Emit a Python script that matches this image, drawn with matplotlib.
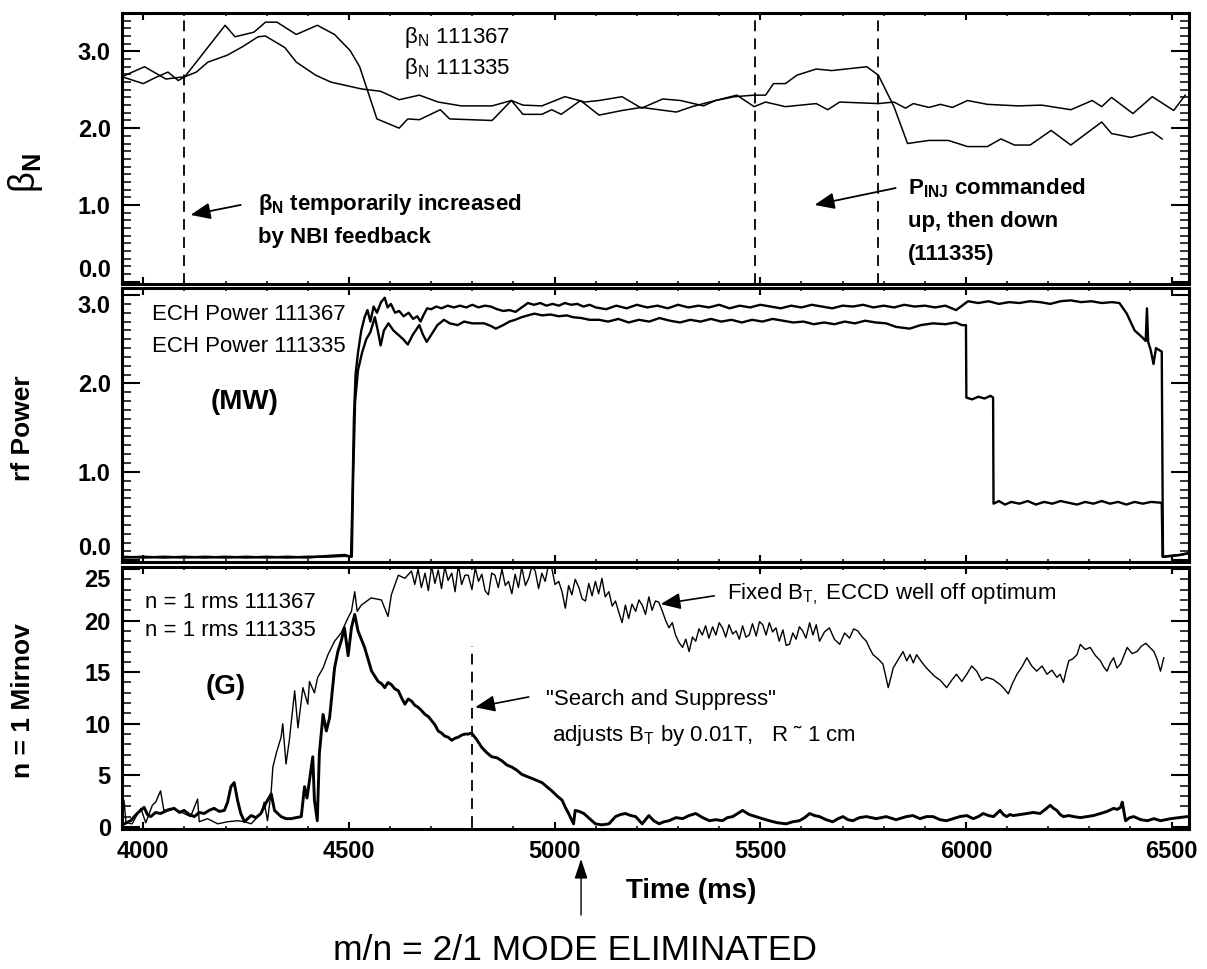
import matplotlib
matplotlib.use("Agg")
import matplotlib.pyplot as plt
from matplotlib.ticker import MultipleLocator
from matplotlib.patches import FancyArrowPatch

plt.rcParams['font.family'] = ['Liberation Sans', 'DejaVu Sans']
plt.rcParams['mathtext.fontset'] = 'custom'
plt.rcParams['mathtext.rm'] = 'Liberation Sans'
plt.rcParams['mathtext.it'] = 'Liberation Sans:italic'
plt.rcParams['mathtext.bf'] = 'Liberation Sans:bold'

# ---- beta_N (top panel) ----
t_bn335 = [3948, 4003, 4055, 4101, 4199, 4223, 4269, 4297, 4325, 4372, 4423, 4465, 4503, 4526,
           4568, 4622, 4643, 4671, 4722, 4745, 4848, 4895, 4923, 4969, 4993, 5016, 5063, 5108,
           5164, 5211, 5296, 5334, 5391, 5438, 5485, 5513, 5532, 5561, 5589, 5636, 5674, 5759,
           5787, 5825, 5858, 5910, 5957, 6004, 6052, 6085, 6118, 6156, 6207, 6255, 6330, 6354,
           6401, 6453, 6477]
bn335 = [2.67, 2.80, 2.64, 2.67, 3.34, 3.19, 3.25, 3.38, 3.38, 3.22, 3.34, 3.22, 3.01, 2.80,
         2.12, 2.00, 2.12, 2.11, 2.24, 2.12, 2.10, 2.36, 2.18, 2.18, 2.24, 2.18, 2.36, 2.17,
         2.23, 2.27, 2.21, 2.28, 2.36, 2.41, 2.43, 2.43, 2.58, 2.58, 2.69, 2.77, 2.75, 2.80,
         2.69, 2.28, 1.80, 1.84, 1.84, 1.76, 1.76, 1.86, 1.78, 1.78, 1.97, 1.78, 2.08, 1.93,
         1.88, 1.95, 1.86]
t_bn367 = [3948, 4000, 4030, 4060, 4085, 4101, 4129, 4157, 4204, 4241, 4279, 4297, 4344, 4372,
           4419, 4456, 4531, 4577, 4622, 4671, 4717, 4773, 4848, 4895, 4923, 4969, 5025, 5053,
           5072, 5108, 5164, 5211, 5263, 5306, 5362, 5391, 5443, 5485, 5513, 5561, 5636, 5664,
           5693, 5787, 5825, 5853, 5872, 5910, 5938, 5967, 6004, 6052, 6127, 6184, 6255, 6307,
           6330, 6354, 6406, 6453, 6505, 6533]
bn367 = [2.67, 2.58, 2.66, 2.73, 2.62, 2.67, 2.73, 2.86, 2.95, 3.06, 3.19, 3.20, 3.05, 2.86,
         2.69, 2.60, 2.51, 2.48, 2.37, 2.43, 2.34, 2.29, 2.29, 2.36, 2.30, 2.29, 2.41, 2.37,
         2.34, 2.36, 2.41, 2.26, 2.38, 2.36, 2.29, 2.36, 2.43, 2.28, 2.34, 2.28, 2.32, 2.24,
         2.34, 2.32, 2.34, 2.26, 2.32, 2.27, 2.31, 2.27, 2.36, 2.31, 2.29, 2.30, 2.24, 2.36,
         2.28, 2.40, 2.19, 2.41, 2.23, 2.43]
bn_marks = [4100, 5488, 5785]

# ---- ECH power (middle panel) ----
t_ech367 = [3948, 4000, 4050, 4100, 4150, 4200, 4250, 4300, 4350, 4400, 4450, 4490, 4505,
            4508, 4512, 4516, 4522, 4530, 4538, 4545, 4552, 4560, 4568, 4578, 4587, 4594,
            4602, 4612, 4622, 4633, 4645, 4656, 4666, 4674, 4682, 4690, 4700, 4712, 4725,
            4740, 4755, 4770, 4785, 4800, 4815, 4830, 4845, 4860, 4875, 4890, 4905, 4920,
            4935, 4950, 4965, 4980, 4995, 5010, 5025, 5040, 5055, 5070, 5085, 5100, 5125,
            5150, 5175, 5200, 5225, 5250, 5275, 5300, 5325, 5350, 5375, 5400, 5425, 5450,
            5475, 5500, 5525, 5550, 5575, 5600, 5625, 5650, 5675, 5700, 5725, 5750, 5775,
            5800, 5825, 5850, 5875, 5900, 5925, 5950, 5976, 6005, 6030, 6055, 6080, 6105,
            6130, 6155, 6180, 6205, 6230, 6255, 6280, 6305, 6330, 6355, 6373, 6391, 6410,
            6429, 6437, 6440, 6443, 6449, 6456, 6462, 6476, 6479, 6500, 6520, 6541]
ech367 = [0.04, 0.03, 0.04, 0.03, 0.04, 0.03, 0.04, 0.03, 0.04, 0.03, 0.05, 0.06, 0.04,
          0.6, 1.6, 2.1, 2.35, 2.6, 2.75, 2.83, 2.7, 2.87, 2.8, 2.92, 2.97, 2.86,
          2.9, 2.8, 2.82, 2.76, 2.8, 2.73, 2.76, 2.70, 2.78, 2.85, 2.84, 2.87, 2.85,
          2.88, 2.86, 2.88, 2.86, 2.89, 2.86, 2.88, 2.87, 2.84, 2.82, 2.83, 2.81, 2.86,
          2.91, 2.89, 2.91, 2.88, 2.90, 2.88, 2.91, 2.89, 2.90, 2.87, 2.89, 2.86, 2.84,
          2.88, 2.85, 2.89, 2.86, 2.88, 2.85, 2.89, 2.86, 2.88, 2.86, 2.89, 2.85, 2.88,
          2.86, 2.89, 2.87, 2.85, 2.88, 2.86, 2.89, 2.87, 2.85, 2.88, 2.87, 2.89, 2.86,
          2.88, 2.86, 2.89, 2.87, 2.88, 2.86, 2.88, 2.83, 2.93, 2.91, 2.93, 2.90, 2.92,
          2.91, 2.93, 2.92, 2.90, 2.93, 2.94, 2.92, 2.93, 2.91, 2.92, 2.91, 2.79, 2.60,
          2.52, 2.48, 2.85, 2.47, 2.38, 2.22, 2.40, 2.36, 0.04, 0.05, 0.06, 0.08]
t_ech335 = [3948, 4000, 4050, 4100, 4150, 4200, 4250, 4300, 4350, 4400, 4450, 4490, 4507,
            4510, 4515, 4522, 4532, 4542, 4552, 4563, 4570, 4577, 4585, 4596, 4608, 4620,
            4632, 4643, 4655, 4671, 4680, 4689, 4700, 4715, 4731, 4745, 4764, 4780, 4800,
            4829, 4845, 4857, 4875, 4890, 4904, 4920, 4935, 4951, 4970, 4990, 5010, 5030,
            5044, 5065, 5085, 5108, 5130, 5155, 5180, 5205, 5230, 5255, 5280, 5305, 5330,
            5355, 5380, 5405, 5430, 5455, 5480, 5505, 5530, 5555, 5580, 5605, 5630, 5655,
            5680, 5705, 5730, 5755, 5780, 5806, 5830, 5863, 5890, 5920, 5950, 5975, 5990,
            6000, 6001, 6015, 6030, 6045, 6060, 6066, 6067, 6080, 6095, 6110, 6130, 6150,
            6170, 6190, 6210, 6230, 6250, 6270, 6290, 6310, 6330, 6350, 6370, 6390, 6410,
            6430, 6450, 6476, 6478, 6500, 6520, 6541]
ech335 = [0.03, 0.04, 0.03, 0.04, 0.03, 0.04, 0.03, 0.04, 0.03, 0.04, 0.04, 0.05, 0.04,
          0.9, 1.8, 2.15, 2.35, 2.5, 2.58, 2.75, 2.6, 2.43, 2.6, 2.68, 2.6, 2.55,
          2.5, 2.44, 2.55, 2.66, 2.55, 2.47, 2.55, 2.66, 2.72, 2.68, 2.66, 2.70, 2.68,
          2.68, 2.65, 2.62, 2.66, 2.70, 2.72, 2.75, 2.77, 2.79, 2.77, 2.78, 2.76, 2.77,
          2.75, 2.74, 2.72, 2.72, 2.70, 2.73, 2.69, 2.72, 2.70, 2.74, 2.71, 2.69, 2.72,
          2.70, 2.73, 2.70, 2.72, 2.69, 2.72, 2.70, 2.73, 2.71, 2.69, 2.70, 2.67, 2.69,
          2.67, 2.70, 2.68, 2.71, 2.69, 2.68, 2.64, 2.62, 2.66, 2.68, 2.67, 2.69, 2.66,
          2.66, 1.84, 1.82, 1.85, 1.83, 1.86, 1.84, 0.64, 0.67, 0.63, 0.66, 0.64, 0.67,
          0.63, 0.66, 0.64, 0.67, 0.65, 0.63, 0.66, 0.64, 0.67, 0.64, 0.66, 0.63, 0.66,
          0.64, 0.66, 0.65, 0.04, 0.05, 0.06, 0.08]

# ---- n=1 Mirnov (bottom panel) ----
t_mir367 = [3949, 3953, 3958, 3973, 3985, 3994, 4006, 4022, 4030, 4042, 4050, 4067, 4083,
            4099, 4115, 4132, 4136, 4156, 4181, 4205, 4229, 4246, 4262, 4286, 4294, 4302,
            4311, 4315, 4323, 4335, 4339, 4347, 4355, 4368, 4376, 4388, 4400, 4404, 4416,
            4424, 4437, 4449, 4465, 4481, 4498, 4506, 4514, 4520, 4530, 4554, 4579, 4595,
            4603, 4620, 4636, 4652, 4660, 4668, 4676, 4685, 4693, 4701, 4709, 4717, 4725,
            4733, 4741, 4750, 4758, 4766, 4774, 4782, 4790, 4799, 4807, 4815, 4823, 4831,
            4839, 4847, 4855, 4863, 4872, 4880, 4888, 4896, 4904, 4912, 4920, 4929, 4937,
            4945, 4953, 4961, 4969, 4977, 4985, 4993, 5001, 5010, 5018, 5026, 5034, 5042,
            5050, 5059, 5067, 5075, 5083, 5091, 5099, 5107, 5115, 5123, 5132, 5140, 5148,
            5156, 5164, 5172, 5180, 5188, 5197, 5205, 5213, 5221, 5229, 5237, 5245, 5253,
            5262, 5270, 5278, 5286, 5294, 5302, 5311, 5319, 5327, 5335, 5343, 5351, 5359,
            5367, 5375, 5384, 5392, 5400, 5408, 5416, 5424, 5433, 5441, 5449, 5457, 5465,
            5473, 5481, 5490, 5498, 5506, 5514, 5522, 5530, 5538, 5546, 5555, 5563, 5571,
            5579, 5587, 5595, 5603, 5611, 5620, 5628, 5636, 5644, 5656, 5668, 5680, 5693,
            5705, 5717, 5727, 5737, 5748, 5758, 5766, 5774, 5786, 5798, 5805, 5811, 5817,
            5823, 5835, 5847, 5856, 5864, 5872, 5880, 5892, 5904, 5914, 5924, 5938, 5953,
            5965, 5977, 5990, 6002, 6014, 6026, 6038, 6050, 6066, 6083, 6093, 6103, 6113,
            6124, 6136, 6148, 6160, 6172, 6185, 6197, 6209, 6221, 6229, 6237, 6244, 6250,
            6260, 6270, 6278, 6290, 6302, 6315, 6327, 6335, 6343, 6351, 6359, 6367, 6376,
            6384, 6392, 6404, 6416, 6426, 6437, 6447, 6457, 6465, 6473, 6481]
mir367 = [0.3, 2.6, 0.4, 0.3, 1.2, 1.8, 0.4, 2.1, 2.4, 3.5, 1.6, 1.8, 1.6,
          1.3, 1.0, 2.7, 0.5, 0.8, 0.3, 0.5, 0.6, 0.5, 0.3, 1.3, 2.4, 0.6,
          3.5, 5.8, 7.1, 8.7, 10.0, 6.1, 8.4, 13.2, 9.6, 13.5, 11.9, 14.1, 13.0,
          14.5, 15.4, 16.7, 18.0, 18.8, 20.3, 20.9, 22.8, 20.9, 21.5, 22.2, 22.0, 20.4,
          22.5, 24.4, 24.1, 24.8, 23.5, 25.0, 23.2, 24.6, 22.9, 25.3, 23.6, 24.9, 23.1,
          25.2, 23.9, 24.6, 22.8, 25.4, 23.5, 24.4, 24.4, 23.0, 25.1, 23.8, 24.5, 22.9,
          22.5, 24.6, 24.4, 23.2, 25.0, 23.4, 23.8, 22.6, 24.5, 23.2, 25.2, 23.4, 24.1,
          25.3, 24.8, 23.1, 24.6, 23.8, 25.4, 25.1, 23.5, 23.8, 22.8, 21.2, 23.4, 22.5,
          24.0, 23.2, 22.1, 21.9, 23.6, 22.4, 23.8, 22.6, 24.1, 22.3, 22.8, 21.4, 21.9,
          20.8, 19.8, 21.5, 20.2, 21.6, 20.9, 22.0, 21.5, 20.6, 22.3, 21.0, 21.9, 21.8,
          20.9, 20.0, 19.3, 19.8, 18.6, 17.9, 17.4, 18.2, 17.0, 18.4, 18.0, 19.2, 18.6,
          19.5, 18.3, 19.4, 18.6, 19.8, 19.3, 18.4, 19.6, 18.7, 19.0, 18.2, 19.5, 18.4,
          18.6, 19.7, 18.5, 19.9, 19.6, 18.6, 19.8, 18.9, 19.3, 18.0, 19.1, 17.6, 17.7,
          18.8, 18.2, 19.4, 19.0, 18.3, 19.8, 18.6, 19.6, 18.0, 18.9, 19.3, 18.2, 17.7,
          18.8, 18.3, 19.2, 19.0, 18.4, 18.0, 17.3, 16.7, 16.3, 15.8, 14.6, 13.5, 14.4,
          15.4, 16.2, 17.0, 16.1, 16.7, 15.9, 16.7, 16.0, 15.4, 15.0, 14.6, 14.2, 13.5,
          14.2, 14.8, 14.1, 14.8, 15.6, 15.1, 14.2, 14.5, 14.3, 13.8, 13.4, 12.9, 13.9,
          14.8, 15.5, 16.4, 15.6, 15.1, 15.6, 14.8, 15.2, 14.5, 14.8, 14.0, 15.2, 16.1,
          16.3, 16.7, 17.7, 17.2, 17.4, 16.6, 16.1, 15.5, 15.1, 15.9, 16.4, 15.4, 15.8,
          16.6, 17.4, 16.8, 17.0, 17.5, 17.8, 17.4, 17.0, 16.2, 15.1, 16.4]
t_mir335 = [3949, 3969, 3985, 4002, 4010, 4018, 4030, 4042, 4058, 4075, 4088, 4099, 4112,
            4124, 4136, 4148, 4160, 4172, 4185, 4197, 4205, 4213, 4221, 4229, 4237, 4246,
            4254, 4262, 4274, 4286, 4298, 4311, 4319, 4335, 4347, 4359, 4372, 4384, 4392,
            4398, 4404, 4412, 4416, 4423, 4428, 4437, 4445, 4453, 4457, 4465, 4473, 4481,
            4489, 4498, 4506, 4514, 4522, 4530, 4538, 4546, 4555, 4563, 4571, 4579, 4587,
            4595, 4603, 4611, 4620, 4628, 4636, 4644, 4652, 4660, 4668, 4676, 4685, 4693,
            4701, 4709, 4717, 4725, 4733, 4741, 4750, 4758, 4766, 4774, 4782, 4790, 4798,
            4810, 4823, 4835, 4847, 4860, 4872, 4884, 4896, 4908, 4920, 4932, 4945, 4957,
            4969, 4981, 4993, 5006, 5018, 5026, 5034, 5046, 5050, 5060, 5071, 5085, 5099,
            5115, 5132, 5148, 5160, 5172, 5185, 5197, 5213, 5229, 5241, 5254, 5266, 5278,
            5295, 5311, 5327, 5343, 5360, 5376, 5392, 5408, 5420, 5433, 5445, 5457, 5473,
            5489, 5505, 5522, 5542, 5563, 5579, 5595, 5608, 5620, 5632, 5644, 5660, 5676,
            5689, 5701, 5713, 5725, 5741, 5758, 5782, 5806, 5830, 5855, 5871, 5888, 5904,
            5920, 5937, 5953, 5969, 5985, 6002, 6018, 6030, 6042, 6055, 6067, 6075, 6083,
            6091, 6099, 6107, 6115, 6132, 6148, 6164, 6180, 6193, 6205, 6213, 6221, 6229,
            6237, 6250, 6262, 6278, 6294, 6310, 6327, 6343, 6359, 6368, 6376, 6380, 6388,
            6398, 6408, 6425, 6441, 6457, 6473, 6485, 6498, 6518, 6538]
mir335 = [0.2, 0.6, 1.3, 1.9, 1.2, 1.0, 1.4, 1.3, 1.6, 1.8, 1.4, 1.6, 1.2,
          1.0, 1.4, 1.3, 1.6, 1.8, 1.5, 1.6, 2.4, 3.9, 4.3, 2.6, 1.3, 0.5,
          0.8, 1.1, 0.9, 1.3, 2.3, 3.2, 1.6, 1.0, 0.8, 0.8, 0.9, 1.0, 3.9,
          2.8, 4.5, 6.8, 2.6, 0.6, 7.1, 10.9, 9.3, 10.6, 12.2, 15.4, 17.0, 18.0,
          19.3, 16.6, 19.3, 20.6, 19.0, 18.2, 17.4, 16.3, 15.1, 14.6, 14.1, 13.9, 13.5,
          14.0, 13.8, 13.4, 13.2, 12.5, 11.9, 12.4, 12.2, 11.8, 11.6, 11.3, 10.9, 10.7,
          10.3, 9.9, 9.3, 9.1, 8.8, 8.7, 8.4, 8.6, 8.7, 8.9, 9.0, 9.0, 9.1,
          8.5, 7.7, 7.2, 6.8, 6.7, 6.4, 6.0, 5.8, 5.5, 5.1, 4.9, 4.7, 4.5,
          4.3, 3.9, 3.5, 3.0, 2.6, 1.9, 1.3, 0.3, 1.6, 1.5, 1.3, 0.8, 0.3,
          0.2, 0.3, 1.0, 1.2, 1.3, 1.1, 1.0, 0.3, 1.1, 0.6, 0.3, 0.5, 0.6,
          0.9, 0.8, 1.1, 1.3, 0.9, 0.6, 0.7, 0.6, 0.9, 1.0, 1.3, 1.6, 1.2,
          1.0, 0.8, 0.6, 0.4, 0.3, 0.5, 0.6, 0.9, 1.3, 1.1, 1.0, 0.7, 0.5,
          0.8, 1.0, 0.7, 0.6, 0.9, 1.0, 0.8, 1.0, 0.7, 1.0, 1.1, 0.8, 1.0,
          1.0, 0.7, 0.6, 0.8, 1.0, 1.1, 0.8, 1.0, 1.3, 1.1, 1.0, 1.3, 1.6,
          1.2, 1.0, 1.2, 1.1, 1.2, 1.3, 1.4, 1.3, 1.7, 2.1, 1.8, 1.6, 1.2,
          1.0, 1.1, 1.0, 0.9, 1.0, 1.1, 1.3, 1.5, 1.8, 1.7, 1.9, 2.4, 0.6,
          0.9, 1.0, 0.7, 0.6, 0.8, 0.6, 0.7, 0.8, 0.9, 1.0]

ARROW = '-|>,head_length=0.6,head_width=0.25'

fig = plt.figure(figsize=(12.07, 9.69), dpi=100)
ax1 = fig.add_axes([0.101, 0.7069, 0.884, 0.2797])
ax2 = fig.add_axes([0.101, 0.4200, 0.884, 0.2828])
ax3 = fig.add_axes([0.101, 0.1445, 0.884, 0.2704])

for ax in (ax1, ax2, ax3):
    ax.set_xlim(3948, 6542)
    ax.xaxis.set_major_locator(MultipleLocator(500))
    ax.xaxis.set_minor_locator(MultipleLocator(100))
    ax.tick_params(which='both', direction='in', top=True, right=True, colors='k')
    ax.tick_params(axis='y', which='major', length=13, width=1.5, pad=8, labelsize=17)
    ax.tick_params(axis='y', which='minor', length=6.5, width=1.1)
    ax.tick_params(axis='x', which='major', length=5, width=1.5, pad=8, labelsize=17)
    ax.tick_params(axis='x', which='minor', length=2.5, width=1.1)
    for s in ax.spines.values():
        s.set_linewidth(2.2)

ax1.tick_params(labelbottom=False)
ax2.tick_params(labelbottom=False)

# top: beta_N
ax1.plot(t_bn335, bn335, color='k', lw=1.1)
ax1.plot(t_bn367, bn367, color='k', lw=1.1)
for t in bn_marks:
    ax1.axvline(t, color='k', lw=1.3, ls=(0, (6, 4)))
ax1.set_ylim(-0.03, 3.5)
ax1.yaxis.set_major_locator(MultipleLocator(1.0))
ax1.yaxis.set_minor_locator(MultipleLocator(0.1))
ax1.yaxis.set_major_formatter(plt.FormatStrFormatter('%.1f'))
ax1.set_ylabel('β$_\\mathbf{N}$', fontsize=26)
ax1.yaxis.set_label_coords(-0.072, 0.41)
ax1.text(4634, 3.18, 'β$_\\mathrm{N}$ 111367', fontsize=16, va='center')
ax1.text(4634, 2.78, 'β$_\\mathrm{N}$ 111335', fontsize=16, va='center')
ax1.text(4280, 1.0, 'β$_\\mathbf{N}$ temporarily increased', fontsize=16,
         fontweight='bold', va='center')
ax1.text(4280, 0.57, 'by NBI feedback', fontsize=16, fontweight='bold', va='center')
ax1.annotate('', xy=(4115, 0.87), xytext=(4237, 1.0),
             arrowprops=dict(arrowstyle=ARROW, color='k', lw=1.3, mutation_scale=20,
                             shrinkA=0, shrinkB=0))
ax1.text(5859, 1.22, 'P$_\\mathbf{INJ}$ commanded', fontsize=16, fontweight='bold', va='center')
ax1.text(5859, 0.78, 'up, then down', fontsize=16, fontweight='bold', va='center')
ax1.text(5859, 0.35, '(111335)', fontsize=16, fontweight='bold', va='center')
ax1.annotate('', xy=(5632, 1.0), xytext=(5829, 1.22),
             arrowprops=dict(arrowstyle=ARROW, color='k', lw=1.3, mutation_scale=20,
                             shrinkA=0, shrinkB=0))

# middle: ECH power
ax2.plot(t_ech367, ech367, color='k', lw=1.7)
ax2.plot(t_ech335, ech335, color='k', lw=1.7)
ax2.set_ylim(-0.02, 3.08)
ax2.yaxis.set_major_locator(MultipleLocator(1.0))
ax2.yaxis.set_minor_locator(MultipleLocator(0.1))
ax2.yaxis.set_major_formatter(plt.FormatStrFormatter('%.1f'))
ax2.set_ylabel('rf Power', fontsize=19, fontweight='bold')
ax2.yaxis.set_label_coords(-0.081, 0.49)
ax2.text(4022, 2.78, 'ECH Power 111367', fontsize=16, va='center')
ax2.text(4022, 2.42, 'ECH Power 111335', fontsize=16, va='center')
ax2.text(4246, 1.79, '(MW)', fontsize=20, fontweight='bold', va='center', ha='center')

# bottom: n=1 Mirnov
ax3.plot(t_mir367, mir367, color='k', lw=1.0)
ax3.plot(t_mir335, mir335, color='k', lw=2.1)
ax3.plot([4800, 4800], [0, 17.5], color='k', lw=1.3, ls=(0, (6, 4)))
ax3.set_ylim(-0.2, 25.2)
ax3.yaxis.set_major_locator(MultipleLocator(5))
ax3.yaxis.set_minor_locator(MultipleLocator(1))
ax3.set_ylabel('n = 1 Mirnov', fontsize=19, fontweight='bold')
ax3.yaxis.set_label_coords(-0.081, 0.49)
ax3.text(4005, 21.8, 'n = 1 rms 111367', fontsize=16, va='center')
ax3.text(4005, 19.0, 'n = 1 rms 111335', fontsize=16, va='center')
ax3.text(4200, 13.6, '(G)', fontsize=20, fontweight='bold', va='center', ha='center')
ax3.text(5420, 22.6, 'Fixed B$_\\mathrm{T,}$ ECCD well off optimum', fontsize=16, va='center')
ax3.annotate('', xy=(5258, 21.6), xytext=(5388, 22.4),
             arrowprops=dict(arrowstyle=ARROW, color='k', lw=1.2, mutation_scale=20,
                             shrinkA=0, shrinkB=0))
ax3.text(4978, 12.4, '"Search and Suppress"', fontsize=16, va='center')
ax3.text(4993, 8.9, 'adjusts B$_\\mathrm{T}$ by 0.01T,   R \u02dc 1 cm', fontsize=16, va='center')
ax3.annotate('', xy=(4807, 11.6), xytext=(4937, 12.6),
             arrowprops=dict(arrowstyle=ARROW, color='k', lw=1.2, mutation_scale=20,
                             shrinkA=0, shrinkB=0))

# bold tick labels; edge labels nudged inside their own panel
for ax, lo, hi in ((ax1, 0.0, None), (ax2, 0.0, 3.0), (ax3, None, 25)):
    for lab in ax.get_xticklabels():
        lab.set_fontweight('bold')
    locs = ax.yaxis.get_majorticklocs()
    for loc, tk in zip(locs, ax.yaxis.get_major_ticks(len(locs))):
        tk.label1.set_fontweight('bold')
        if lo is not None and abs(loc - lo) < 1e-9:
            tk.label1.set_va('bottom')
        if hi is not None and abs(loc - hi) < 1e-9:
            tk.label1.set_va('top')

fig.text(0.573, 0.0733, 'Time (ms)', fontsize=20, fontweight='bold', ha='center', va='baseline')
fig.text(0.4764, 0.009, 'm/n = 2/1 MODE ELIMINATED', fontsize=25.5, ha='center', va='baseline')
fig.add_artist(FancyArrowPatch(
    (0.4814, 0.0557), (0.4814, 0.1135), transform=fig.transFigure,
    arrowstyle='-|>,head_length=0.6,head_width=0.2', mutation_scale=20,
    color='k', lw=1.0, shrinkA=0, shrinkB=0))

fig.savefig('out.png', dpi=100)
